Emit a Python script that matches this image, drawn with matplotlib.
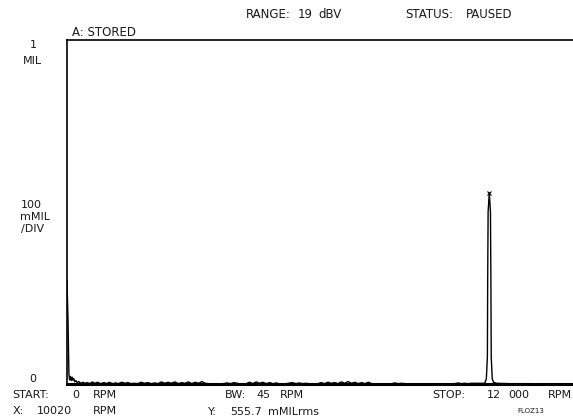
import matplotlib
matplotlib.use("Agg")
import matplotlib.pyplot as plt

# spectrum (RPM, MIL)
rpm = [0, 25, 45, 60, 80, 100, 120, 140, 160, 185, 210, 240, 280, 330, 380, 430, 480,
       540, 600, 660, 720, 800, 880, 940, 1000, 1080, 1160, 1220, 1300, 1380, 1440,
       1520, 1600, 1680, 1760, 1840, 1920, 2000, 2080, 2160, 2240, 2320, 2400, 2480,
       2560, 2640, 2720, 2800, 2880, 2960, 3040, 3120, 3200, 3280, 3360,
       3500, 3700, 3800, 3880, 3960, 4040, 4120, 4250, 4330, 4410, 4490, 4570, 4650,
       4730, 4810, 4890, 4970, 5050, 5200, 5350, 5430, 5510, 5590, 5670, 5800,
       5950, 6030, 6110, 6190, 6270, 6350, 6430, 6510, 6590, 6670, 6750, 6830, 6910,
       6990, 7070, 7150, 7230, 7400, 7700, 7780, 7860, 7940, 8100, 8500, 8900,
       9200, 9280, 9360, 9440, 9520, 9600, 9800, 9900, 9920, 9950, 9975, 9982, 9992,
       10020, 10048, 10058, 10066, 10090, 10120, 10200, 10500, 11000, 11500, 12000]
amp = [0.300, 0.180, 0.030, 0.012, 0.022, 0.010, 0.020, 0.011, 0.016, 0.006, 0.010, 0.004, 0.007, 0.002, 0.005, 0.002, 0.004,
       0.001, 0.006, 0.002, 0.005, 0.001, 0.004, 0.001, 0.005, 0.001, 0.003, 0.001, 0.005, 0.002, 0.004,
       0.001, 0.002, 0.001, 0.005, 0.002, 0.004, 0.001, 0.003, 0.001, 0.006, 0.002, 0.005, 0.002,
       0.006, 0.001, 0.004, 0.002, 0.006, 0.001, 0.005, 0.002, 0.007, 0.002, 0.001,
       0.000, 0.001, 0.003, 0.001, 0.004, 0.002, 0.000, 0.001, 0.005, 0.001, 0.006, 0.002, 0.005,
       0.001, 0.004, 0.001, 0.003, 0.000, 0.001, 0.004, 0.001, 0.003, 0.001, 0.002, 0.000,
       0.001, 0.004, 0.001, 0.005, 0.002, 0.004, 0.001, 0.006, 0.002, 0.007, 0.002, 0.005, 0.001,
       0.004, 0.001, 0.005, 0.001, 0.000, 0.001, 0.003, 0.001, 0.002, 0.000, 0.001, 0.000,
       0.001, 0.003, 0.001, 0.002, 0.001, 0.002, 0.002, 0.002, 0.005, 0.015, 0.080, 0.300, 0.500,
       0.5557, 0.500, 0.300, 0.080, 0.015, 0.005, 0.002, 0.001, 0.001, 0.000, 0.000]

marker_rpm = 10020
marker_amp = 0.5557

W, H = 573, 420


def fx(px):
    return px / W


def fy(py):
    return 1 - py / H


def main():
    fig = plt.figure(figsize=(5.73, 4.2), dpi=100)
    ax = fig.add_axes([fx(67), fy(384), fx(W - 67) + 0.01, 344 / H])
    ax.plot(rpm, amp, color="black", lw=1.0)
    ax.plot([marker_rpm], [marker_amp], marker="x", color="black", ms=3, mew=0.8)
    ax.set_xlim(0, 12000 * (W + 6 - 67) / (W - 67))
    ax.set_ylim(0, 1)
    ax.set_xticks([])
    ax.set_yticks([])
    ax.spines["right"].set_visible(False)
    ax.spines["left"].set_linewidth(1.2)
    ax.spines["top"].set_linewidth(1.2)
    ax.spines["bottom"].set_linewidth(2.2)

    kw = dict(fontsize=8, color="#1a1a1a", family="DejaVu Sans", va="center")
    top_kw = dict(kw, fontsize=8.5)

    # header line
    header = [
        (246, 15, "RANGE:"), (298, 15, "19"), (318, 15, "dBV"),
        (405, 15, "STATUS:"), (466, 15, "PAUSED"),
        (72, 32, "A: STORED"),
    ]
    for x, y, s in header:
        fig.text(fx(x), fy(y), s, ha="left", **top_kw)

    # footer and scale labels
    texts = [
        (12, 395, "START:"), (72, 395, "0"), (93, 395, "RPM"),
        (225, 395, "BW:"), (256, 395, "45"), (280, 395, "RPM"),
        (432, 395, "STOP:"), (487, 395, "12"), (508, 395, "000"), (548, 395, "RPM"),
        (13, 411, "X:"), (37, 411, "10020"), (93, 411, "RPM"),
        (208, 412, "Y:"), (230, 412, "555.7"), (268, 412, "mMILrms"),
        (21, 205, "100"), (20, 217, "mMIL"), (21, 229, "/DIV"),
    ]
    for x, y, s in texts:
        fig.text(fx(x), fy(y), s, ha="left", **kw)
    fig.text(fx(33), fy(45), "1", ha="center", **kw)
    fig.text(fx(32), fy(61), "MIL", ha="center", **kw)
    fig.text(fx(33), fy(379), "0", ha="center", **kw)
    fig.text(fx(517), fy(411), "FLOZ13", ha="left", fontsize=5, color="#1a1a1a",
             va="center")

    fig.savefig("out.png", dpi=100, facecolor="white")


if __name__ == "__main__":
    main()
